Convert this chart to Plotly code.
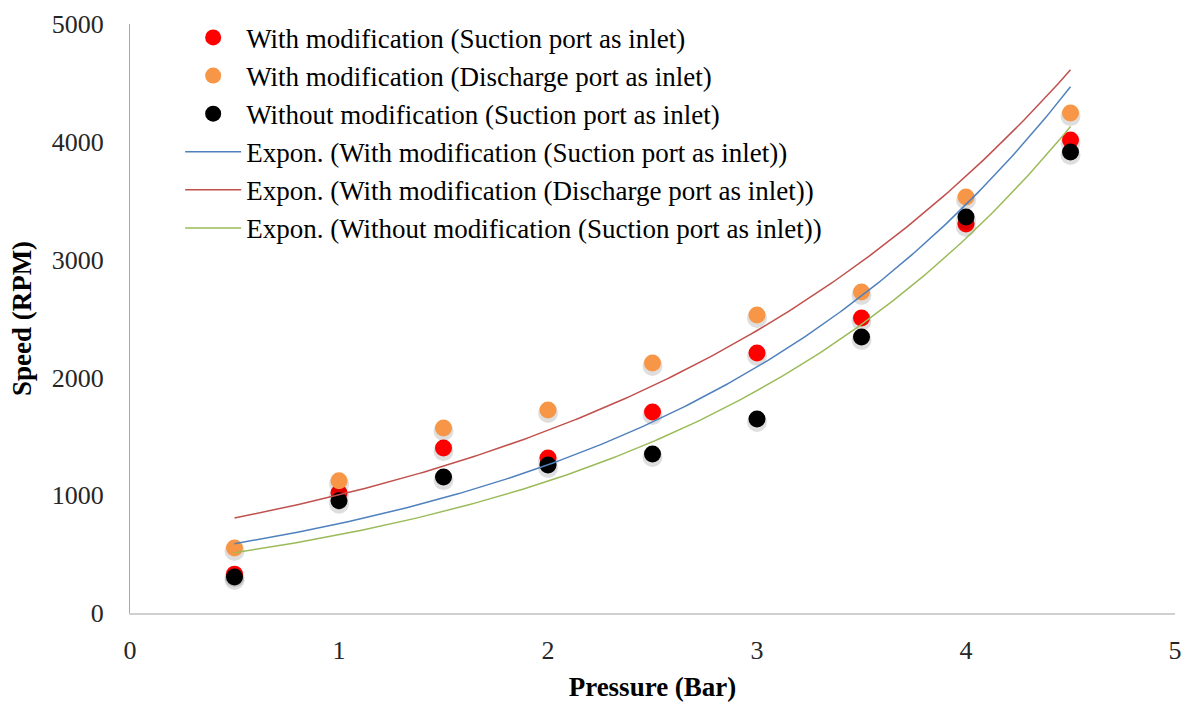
import numpy as np
import plotly.graph_objects as go

# Pressure (Bar)
pressure = [0.5, 1.0, 1.5, 2.0, 2.5, 3.0, 3.5, 4.0, 4.5]

# Speed (RPM) for each configuration
speed_mod_suction = [330, 1018, 1400, 1316, 1706, 2207, 2504, 3302, 4015]
speed_mod_discharge = [552, 1123, 1570, 1723, 2122, 2530, 2725, 3531, 4244]
speed_nomod_suction = [306, 953, 1154, 1256, 1350, 1647, 2343, 3362, 3913]

series_names = [
    "With modification (Suction port as inlet)",
    "With modification (Discharge port as inlet)",
    "Without modification (Suction port as inlet)",
]
marker_colors = ["#FF0000", "#F79646", "#000000"]
trend_colors = ["#4F81BD", "#C0504D", "#9BBB59"]

FONT = "'Times New Roman', 'Liberation Serif', serif"

Y_MAX = 5000
PLOT_H = 702 - 24 - 89           # plot area height in px
SHADOW_DY = 3 * Y_MAX / PLOT_H   # drop-shadow offset of ~3 px, in data units


def expon_fit(x, y):
    """Least-squares fit of y = a*exp(b*x) in log space (spreadsheet style)."""
    x = np.asarray(x, dtype=float)
    b, ln_a = np.polyfit(x, np.log(np.asarray(y, dtype=float)), 1)
    return np.exp(ln_a), b


fig = go.Figure()

all_series = [speed_mod_suction, speed_mod_discharge, speed_nomod_suction]

for name, ys, col in zip(series_names, all_series, marker_colors):
    # soft drop shadow beneath each marker
    fig.add_trace(go.Scatter(
        x=pressure, y=np.asarray(ys) - SHADOW_DY, mode="markers",
        showlegend=False, hoverinfo="skip",
        marker=dict(color="rgba(0,0,0,0.13)", size=20, line=dict(width=0)),
    ))
    fig.add_trace(go.Scatter(
        x=pressure, y=ys, mode="markers", name=name,
        marker=dict(color=col, size=17, line=dict(width=0)),
    ))

xs = np.linspace(min(pressure), max(pressure), 200)
for name, ys, col in zip(series_names, all_series, trend_colors):
    a, b = expon_fit(pressure, ys)
    fig.add_trace(go.Scatter(
        x=xs, y=a * np.exp(b * xs), mode="lines",
        name=f"Expon. ({name})",
        line=dict(color=col, width=1.5),
    ))

fig.update_layout(
    width=1186, height=702,
    margin=dict(l=130, r=11, t=24, b=89),
    paper_bgcolor="white", plot_bgcolor="white",
    font=dict(family=FONT, size=26, color="#262626"),
    showlegend=True,
    legend=dict(
        x=0.048, y=1.018, xanchor="left", yanchor="top",
        bgcolor="rgba(0,0,0,0)",
        font=dict(family=FONT, size=27, color="#000000"),
        itemwidth=56, tracegroupgap=0,
    ),
    xaxis=dict(
        range=[0, 5], dtick=1, tick0=0,
        showgrid=False, zeroline=False,
        showline=True, linecolor="#D0D0D0", linewidth=2,
        ticks="", ticklabelstandoff=13,
        title=dict(text="<b>Pressure (Bar)</b>", standoff=18,
                   font=dict(family=FONT, size=27, color="#000000")),
        automargin=False,
    ),
    yaxis=dict(
        range=[0, Y_MAX], dtick=1000, tick0=0,
        showgrid=False, zeroline=False,
        showline=True, linecolor="#8EA9DB", linewidth=1,
        ticks="", ticklabelstandoff=20,
        title=dict(text="<b>Speed (RPM)</b>", standoff=12,
                   font=dict(family=FONT, size=27, color="#000000")),
        automargin=False,
    ),
)

fig.write_html("out.html")
